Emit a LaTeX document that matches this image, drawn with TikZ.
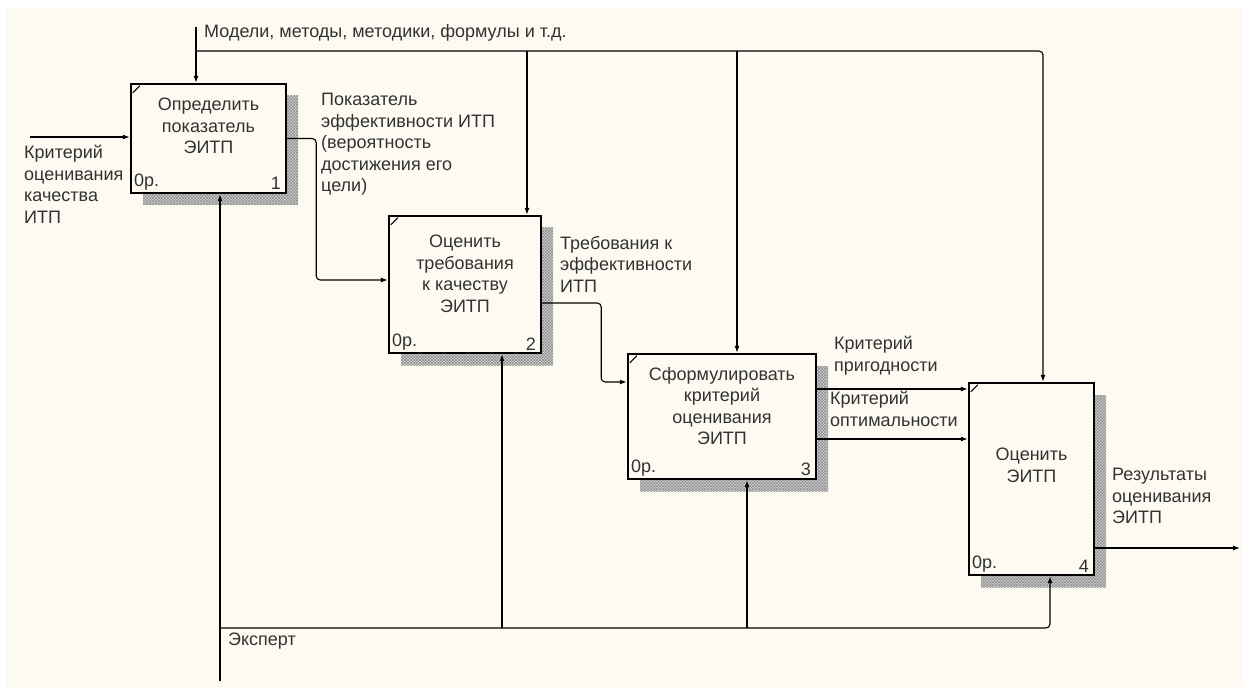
\documentclass[tikz,border=0pt]{standalone}
\usepackage{fontspec}
\setmainfont{Liberation Sans}
\usetikzlibrary{arrows.meta,patterns,shadows}
\definecolor{fon}{RGB}{253,251,241}
\definecolor{tekst}{RGB}{50,50,50}
\tikzset{
  blok/.style={draw, line width=2.4pt, fill=fon, inner sep=0pt,
    general shadow={shadow xshift=12pt, shadow yshift=-12pt, fill=black!18,
      postaction={pattern=crosshatch, pattern color=black!45}}},
  strelka/.style={line width=1.1pt, -{Latex[length=7pt,width=5pt]}, rounded corners=4pt},
  podpis/.style={align=left, inner sep=0pt, text=tekst},
  vnutri/.style={align=center, inner sep=0pt, text=tekst, anchor=north},
}

\begin{document}
\begin{tikzpicture}[x=1pt, y=-1pt, font=\fontsize{18}{21.5}\selectfont]
        % Fon
        \useasboundingbox (0,0) rectangle (1243,687);
        \fill[fon] (6,8) rectangle (1243,687);

        % Bloki
        \node[blok, minimum width=155, minimum height=109] (b1) at (208.5,138.5) {};
        \node[blok, minimum width=152, minimum height=137] (b2) at (465,284.5) {};
        \node[blok, minimum width=188, minimum height=125] (b3) at (722,416.5) {};
        \node[blok, minimum width=125, minimum height=192] (b4) at (1031.5,479) {};

        % Teksty v blokakh
        \node[vnutri] (t1) at ([yshift=-15pt]b1.north) {Определить\\показатель\\ЭИТП};
        \node[vnutri] (t2) at ([yshift=-20pt]b2.north) {Оценить\\требования\\к качеству\\ЭИТП};
        \node[vnutri] (t3) at ([yshift=-14pt]b3.north) {Сформулировать\\критерий\\оценивания\\ЭИТП};
        \node[vnutri] (t4) at ([yshift=-66pt]b4.north) {Оценить\\ЭИТП};
        \foreach \b/\n in {b1/1, b2/2, b3/3, b4/4} {
            \node[podpis, anchor=south west] (op\b) at ([xshift=4pt,yshift=4pt]\b.south west) {0р.};
            \node[podpis, anchor=south east] (nr\b) at ([xshift=-6pt,yshift=4pt]\b.south east) {\n};
            \draw[line width=1pt] ([xshift=3pt,yshift=-10pt]\b.north west) -- ([xshift=10pt,yshift=-3pt]\b.north west);
        }

        % Upravlenie
        \coordinate (ctop) at (196,27);
        \coordinate (cj) at (196,51);
        \coordinate (m2) at ([xshift=62pt]b2.north);
        \coordinate (m3) at ([xshift=15pt]b3.north);
        \coordinate (m4) at ([xshift=11.5pt]b4.north);
        \draw[strelka] (ctop) -- (ctop |- b1.north);
        \draw[strelka] (cj) -| (m4);
        \draw[strelka] (cj -| m2) -- (m2);
        \draw[strelka] (cj -| m3) -- (m3);
        \node[podpis, anchor=west] (lupr) at (204,33) {Модели, методы, методики, формулы и т.д.};

        % Vkhod
        \coordinate (in1) at (30,137);
        \draw[strelka] (in1) -- (in1 -| b1.west);
        \node[podpis, anchor=north west] (lvkh) at (24,145) {Критерий\\оценивания\\качества\\ИТП};

        % Svyazi mezhdu blokami
        \draw[strelka] (b1.east) -- ++(29,0) |- ([yshift=4.5pt]b2.west);
        \node[podpis, anchor=north west] (l12) at (321,93) {Показатель\\эффективности ИТП\\(вероятность\\достижения его\\цели)};

        \draw[strelka] ([yshift=-18.5pt]b2.east) -- ++(59,0) |- ([yshift=34.5pt]b3.west);
        \node[podpis, anchor=north west] (l23) at (560,236) {Требования к\\эффективности\\ИТП};

        \draw[strelka] ([yshift=27.5pt]b3.east) -- ([yshift=27.5pt]b3.east -| b4.west);
        \draw[strelka] ([yshift=-22.5pt]b3.east) -- ([yshift=-22.5pt]b3.east -| b4.west);
        \node[podpis, anchor=north west] (l34a) at (834,336) {Критерий\\пригодности};
        \node[podpis, anchor=north west] (l34b) at (830,391) {Критерий\\оптимальности};

        % Vykhod
        \coordinate (out4) at (1240,548);
        \draw[strelka] ([yshift=-69pt]b4.east) -- (out4);
        \node[podpis, anchor=north west] (lvykh) at (1112,468) {Результаты\\оценивания\\ЭИТП};

        % Mekhanizm
        \coordinate (mech) at (220,681);
        \coordinate (mj) at (220,628);
        \coordinate (s2) at ([xshift=37pt]b2.south);
        \coordinate (s3) at ([xshift=25pt]b3.south);
        \coordinate (s4) at ([xshift=18.5pt]b4.south);
        \draw[strelka] (mech) -- (mech |- b1.south);
        \draw[strelka] (mj) -| (s4);
        \draw[strelka] (mj -| s2) -- (s2);
        \draw[strelka] (mj -| s3) -- (s3);
        \node[podpis, anchor=west] (lmekh) at (228,641) {Эксперт};
\end{tikzpicture}
\end{document}
